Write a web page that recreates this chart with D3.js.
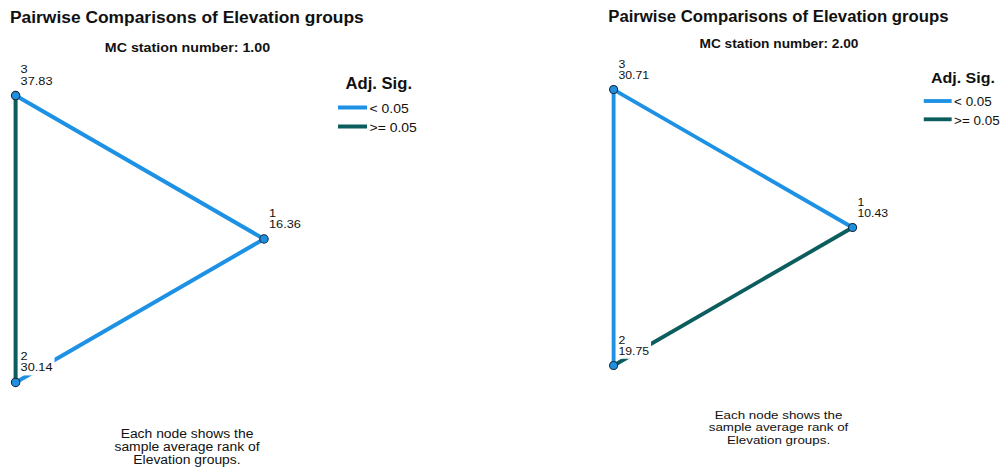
<!DOCTYPE html>
<html>
<head>
<meta charset="utf-8">
<script src="https://cdn.jsdelivr.net/npm/d3@7"></script>
<style>
  html, body { margin: 0; padding: 0; background: #fff; }
  svg text { font-family: Arial, "Liberation Sans", sans-serif; fill: #111; }
</style>
</head>
<body>
<svg id="chart" width="1002" height="473"></svg>
<script>
// ---------- data ----------
const chartTitle = "Pairwise Comparisons of Elevation groups";
const stations = ["1.00", "2.00"];
const nodeIds = [1, 2, 3];
const ranksStation1 = [16.36, 30.14, 37.83];
const ranksStation2 = [10.43, 19.75, 30.71];
const edgePairs = [[3, 2], [3, 1], [1, 2]];
const sigStation1 = ["ge", "lt", "lt"];   // Adj. Sig. category per edge
const sigStation2 = ["lt", "lt", "ge"];
const legendKeys = ["lt", "ge"];
const legendLabels = ["< 0.05", ">= 0.05"];
const legendTitle = "Adj. Sig.";
const footnoteLines = ["Each node shows the", "sample average rank of", "Elevation groups."];

// ---------- drawing ----------
const svg = d3.select("#chart");
const color = d3.scaleOrdinal().domain(legendKeys).range(["#1d91e4", "#0b5d5e"]);
const angle = d3.scaleLinear().domain([0, 1]).range([0, -2 * Math.PI / 3]);

function addText(g, x, y, str, size, opts = {}) {
  const sx = opts.sx || 1.12;
  const t = g.append("text")
    .attr("transform", `translate(${x},${y}) scale(${sx},1)`)
    .attr("font-size", size)
    .attr("font-weight", opts.bold ? "bold" : "normal")
    .attr("text-anchor", opts.anchor || "start")
    .text(str);
  return t;
}

function drawPanel(station, ranks, sigs, tf, titleY) {
  const g = svg.append("g").attr("transform", tf);
  const cx = 98.4, cy = 239, r = 165.6;
  const nodes = nodeIds.map((id, i) => ({
    id, rank: ranks[i],
    x: cx + r * Math.cos(angle(i)),
    y: cy - r * Math.sin(angle(i))
  }));
  const byId = new Map(nodes.map(n => [n.id, n]));

  addText(g, 10, titleY, chartTitle, 16.2, {bold: true, sx: 1.075});
  addText(g, 187.5, 52, "MC station number: " + station, 12.5, {bold: true, anchor: "middle", sx: 1.14});

  // edges
  g.append("g").selectAll("line").data(edgePairs).join("line")
    .attr("x1", d => byId.get(d[0]).x).attr("y1", d => byId.get(d[0]).y)
    .attr("x2", d => byId.get(d[1]).x).attr("y2", d => byId.get(d[1]).y)
    .attr("stroke", (d, i) => color(sigs[i]))
    .attr("stroke-width", 4);

  // label backgrounds & texts
  const lab = g.append("g");
  nodes.forEach(n => {
    const lx = n.x + 5;
    const lg = lab.append("g");
    const bg = lg.append("rect").attr("fill", "#fff");
    const t1 = addText(lg, lx, n.y - 22.5, String(n.id), 11.3, {sx: 1.13});
    const t2 = addText(lg, lx, n.y - 11, n.rank.toFixed(2), 11.3, {sx: 1.13});
    const w = Math.max(t1.node().getComputedTextLength(), t2.node().getComputedTextLength()) * 1.13;
    bg.attr("x", lx - 2).attr("y", n.y - 33).attr("width", w + 4).attr("height", 26);
  });

  // nodes
  g.append("g").selectAll("circle").data(nodes).join("circle")
    .attr("cx", d => d.x).attr("cy", d => d.y).attr("r", 4.2)
    .attr("fill", "#1f8fe0").attr("stroke", "#1a2b3c").attr("stroke-width", 1.1);

  // legend
  addText(g, 345.5, 88.5, legendTitle, 16, {bold: true, sx: 1.04});
  const leg = g.append("g").selectAll("g").data(legendKeys).join("g")
    .attr("transform", (d, i) => `translate(0,${i * 19})`);
  leg.append("line").attr("x1", 338).attr("x2", 367).attr("y1", 107.5).attr("y2", 107.5)
    .attr("stroke", d => color(d)).attr("stroke-width", 4);
  leg.each(function(d, i) {
    addText(d3.select(this), 369.5, 113, legendLabels[i], 13.3, {sx: 1.05});
  });

  // footnote
  footnoteLines.forEach((l, i) => addText(g, 187, 438 + i * 12.8, l, 12.3, {anchor: "middle", sx: 1.13}));
}

drawPanel(stations[0], ranksStation1, sigStation1, "translate(0,0)", 23);
drawPanel(stations[1], ranksStation2, sigStation2, "translate(598.6,-2.4) scale(0.962)", 25);
</script>
</body>
</html>
